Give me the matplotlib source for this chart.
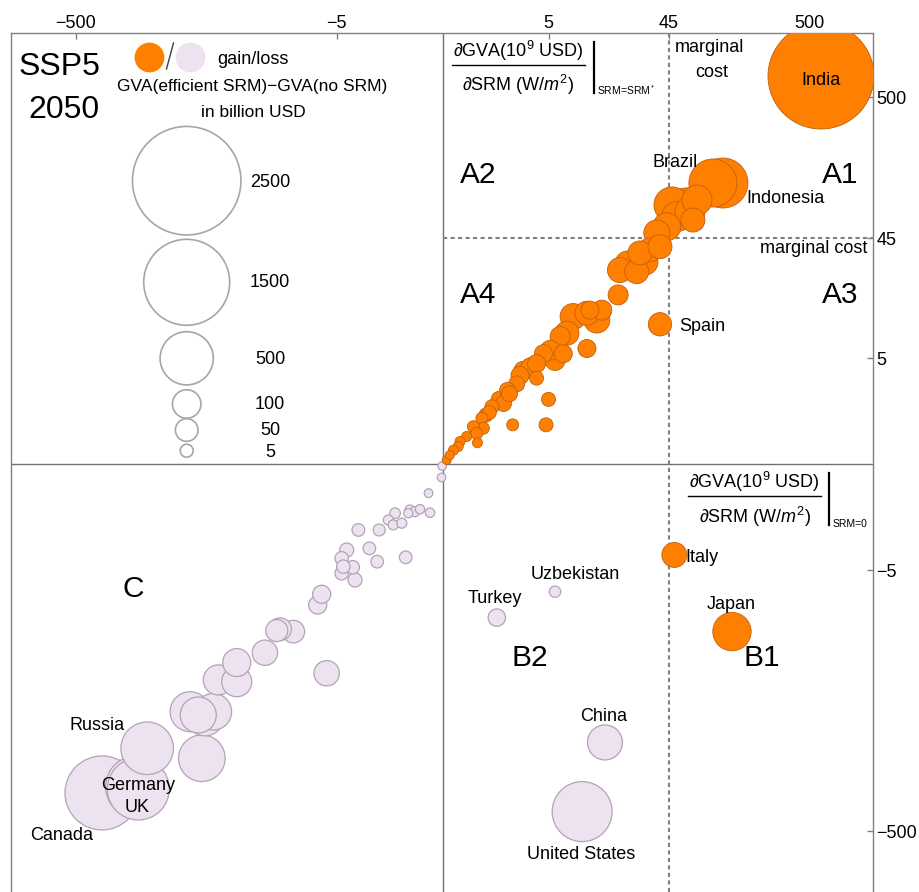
import numpy as np
import matplotlib
matplotlib.use("Agg")
import matplotlib.pyplot as plt
from matplotlib.lines import Line2D

plt.rcParams['font.family'] = ['Liberation Sans', 'DejaVu Sans']
plt.rcParams['mathtext.fontset'] = 'custom'
plt.rcParams['mathtext.rm'] = 'Liberation Sans'
plt.rcParams['mathtext.it'] = 'Liberation Sans:italic'
plt.rcParams['mathtext.bf'] = 'Liberation Sans:bold'

# ---------------- data (10^9 USD per W/m^2; gain/loss in 10^9 USD) ----------------
# countries gaining (orange)
gain_names = ["India", "Brazil", "Indonesia", "Spain", "Italy", "Japan"]
gain_x = [604, 96, 114, 38.6, 49.5, 133,
          60.5, 64.8, 51.6, 68.2, 43.4, 36.5, 38.6, 32.4, 27.2, 25.7, 19.1, 18.5,
          12.6, 10.5, 8.1, 7.2, 6.3, 10.5, 5.2, 4.5, 6.7, 5.7, 3.9, 3.4, 2.9, 3.9,
          2.7, 2.5, 2.0, 2.1, 1.6, 1.8, 1.3, 1.2, 5.0, 0.94, 0.99, 0.68, 0.78, 0.5,
          0.34, 0.3, 0.2, 0.13, 0.07, 2.27, 4.75, 0.8, 1.08, 13.8, 11.1, 29.7, 22.0,
          47.5, 73.1]
gain_y = [715, 116, 116, 9.7, -3.64, -16.0,
          77, 71, 65.2, 61.5, 54.8, 49.2, 38.8, 36.7, 34.8, 25.1, 25.8, 16.6,
          10.5, 11.9, 11.2, 8.2, 7.7, 6.1, 5.9, 5.5, 5.5, 4.8, 4.5, 4.2, 3.9, 3.3,
          3.5, 2.9, 2.5, 2.3, 2.0, 1.8, 1.65, 1.4, 2.0, 1.18, 0.84, 0.89, 0.69, 0.6,
          0.47, 0.35, 0.27, 0.17, 0.075, 0.95, 0.95, 0.44, 1.3, 12.6, 12.6, 29.7, 28.7,
          79.7, 86.7]
gain_val = [2377, 390, 430, 55, 68, 223,
            218, 116, 116, 60, 95, 77, 60, 60, 60, 60, 68, 33,
            77, 60, 77, 60, 33, 23, 33, 23, 23, 33, 23, 23, 23, 7.6,
            23, 14, 14, 14, 14, 14, 7.6, 7.6, 7.6, 3, 3, 3, 3, 0.6,
            0.6, 0.6, 0.6, 0.1, 0.1, 3, 7.6, 0.6, 7.6, 33, 23, 77, 77,
            189, 116]

# countries losing (lavender)
loss_names = ["Canada", "Germany", "UK", "Russia", "Turkey", "Uzbekistan", "China", "United States"]
loss_x = [-319, -177, -172, -148, 1.5, 5.7, 14.6, 9.6,
          -58, -71, -55, -47.6, -61.7, -43.7, -31.7, -31.7, -19.3, -14.7, -15.6,
          -11.55, -6.13, -7.3, -6.76, -4.08, -4.53, -4.38, -3.59, -4.53, -3.41,
          -3.17, -2.46, -2.03, -0.87, -1.93, -1.51, -1.31, -1.24, -1.0, -0.79,
          -0.74, -0.6, -0.47, -0.24, -0.27, -0.02, -0.01]
loss_y = [-260, -234, -243, -121.5, -12.4, -7.65, -110, -357,
          -144, -65, -71, -65, -68.7, -37.5, -38.7, -27.7, -23.3, -15.3, -15.7,
          -16.0, -33.4, -9.83, -8.03, -3.27, -3.91, -4.66, -4.72, -5.33, -6.09,
          -2.04, -3.15, -4.2, -3.83, -2.04, -1.57, -1.79, -1.29, -1.71, -1.29,
          -1.17, -1.23, -1.14, -1.27, -0.63, -0.25, -0.03]
loss_val = [1073, 716, 716, 486, 19.6, 2, 175, 663,
            363, 248, 218, 197, 189, 116, 116, 95, 71, 50, 46,
            50, 71, 23, 23, 7.6, 6, 6, 6, 6, 7.6,
            4.2, 4.2, 4.2, 4.2, 3, 0.6, 0.6, 1.1, 0.6, 0.1,
            0.6, 0.6, 0.2, 0.2, 0.01, 0, 0]

legend_vals = [2500, 1500, 500, 100, 50, 5]
tick_vals = [-500, -5, 5, 45, 500]
tick_labels = ["\u2212500", "\u22125", "5", "45", "500"]
marginal_cost = 45

# ---------------- helpers ----------------
W, H = 919, 892


def fwd(v):
    v = np.asarray(v, dtype=float)
    return np.sign(v) * np.log10(1 + np.abs(v))


def inv(t):
    t = np.asarray(t, dtype=float)
    return np.sign(t) * (10 ** np.abs(t) - 1)


def msize(v):
    r = 4.25 + np.sqrt(np.abs(np.asarray(v, dtype=float)))   # radius in px
    return (2 * r * 72 / 100) ** 2


def fx(x):
    return x / W


def fy(y):
    return 1 - y / H


fig = plt.figure(figsize=(W / 100, H / 100), dpi=100)
ax = fig.add_axes([fx(10.7), 0, 862.3 / W, fy(33.3)])
ax.set_xscale('function', functions=(fwd, inv))
ax.set_yscale('function', functions=(fwd, inv))
ax.set_xlim(inv(-3.1765), inv(3.164))
ax.set_ylim(inv(-3.145), inv(3.169))

# reference lines
ax.axhline(0, color='#707070', lw=1, zorder=1)
ax.axvline(0, color='#707070', lw=1, zorder=1)
ax.axvline(marginal_cost, color='#808080', lw=1.5, ls=(0, (2, 1.6)), zorder=1)
ax.plot([0, inv(3.164)], [marginal_cost, marginal_cost], color='#808080', lw=1.5,
        ls=(0, (2, 1.6)), zorder=1)

# bubbles, largest first
lx, ly, lv = np.array(loss_x), np.array(loss_y), np.array(loss_val)
o = np.argsort(-lv)
ax.scatter(lx[o], ly[o], s=msize(lv[o]), c='#ede2ef', edgecolors='#b3a3b6',
           linewidths=0.9, zorder=3)
gx, gy, gv = np.array(gain_x), np.array(gain_y), np.array(gain_val)
o = np.argsort(-gv)
ax.scatter(gx[o], gy[o], s=msize(gv[o]), c='#ff8000', edgecolors='#c0600c',
           linewidths=0.6, zorder=4)

# axes styling
ax.xaxis.tick_top()
ax.yaxis.tick_right()
ax.set_xticks(tick_vals)
ax.set_xticklabels(tick_labels)
ax.set_yticks(tick_vals)
ax.set_yticklabels(tick_labels)
ax.minorticks_off()
ax.tick_params(axis='both', direction='in', length=4, width=1, color='#808080',
               labelsize=13)
ax.tick_params(axis='x', pad=1)
ax.tick_params(axis='y', pad=2.5)
for side in ['top', 'left', 'right']:
    ax.spines[side].set_color('#808080')
    ax.spines[side].set_linewidth(1)
ax.spines['bottom'].set_visible(False)


def txt(x, y, s, size=13, ha='center', **kw):
    fig.text(fx(x), fy(y), s, fontsize=size, ha=ha, va='baseline', **kw)


# quadrant names
for name, x, y in [("A2", 478, 183.3), ("A1", 840, 183.3), ("A4", 478, 303.3),
                   ("A3", 840, 303.3), ("C", 133.7, 596.7), ("B2", 530, 666),
                   ("B1", 762, 666)]:
    txt(x, y, name, size=21.5)

txt(100, 75, "SSP5", size=23, ha='right')
txt(100, 118.3, "2050", size=23, ha='right')

# country labels
for name, x, y in [("India", 821, 85), ("Brazil", 675, 166.7), ("Indonesia", 786, 203.3),
                   ("Spain", 702.5, 331), ("Italy", 702, 561.7), ("Japan", 731, 609.3),
                   ("Uzbekistan", 575, 579), ("Turkey", 495, 603.3), ("China", 603.5, 721),
                   ("United States", 581, 859.3), ("Russia", 96.7, 730),
                   ("Germany", 138, 790), ("UK", 137.5, 812.3), ("Canada", 61.7, 840)]:
    txt(x, y, name, zorder=6)

# marginal cost labels
txt(709, 51.7, "marginal")
txt(711.7, 76.7, "cost")
txt(867.7, 253.3, "marginal cost", ha='right')

# derivative labels
txt(518.3, 57, "\u2202GVA($10^9$ USD)")
txt(518.3, 90.7, "\u2202SRM (W/$m^2$)")
fig.add_artist(Line2D([fx(451.7), fx(585)], [fy(65), fy(65)], color='black', lw=1))
fig.add_artist(Line2D([fx(594), fx(594)], [fy(41.7), fy(93.3)], color='black', lw=1.6))
txt(597, 95, "SRM=SRM$^*$", size=7.5, ha='left')

txt(754.5, 488.3, "\u2202GVA($10^9$ USD)")
txt(755, 523.3, "\u2202SRM (W/$m^2$)")
fig.add_artist(Line2D([fx(688.3), fx(820.7)], [fy(496), fy(496)], color='black', lw=1))
fig.add_artist(Line2D([fx(829.3), fx(829.3)], [fy(473.3), fy(525)], color='black', lw=1.6))
txt(833, 526.7, "SRM=0", size=7.5, ha='left')

# legend
ax.scatter([fx(149.3)], [fy(56.7)], s=(2 * 14.2 * 0.72) ** 2, c='#ff8000',
           transform=fig.transFigure, clip_on=False, zorder=5)
ax.scatter([fx(190)], [fy(56.7)], s=(2 * 14.2 * 0.72) ** 2, c='#ede2ef',
           transform=fig.transFigure, clip_on=False, zorder=5)
fig.add_artist(Line2D([fx(166.5), fx(173.5)], [fy(69), fy(43)], color='#404040', lw=1))
txt(217, 64, "gain/loss", ha='left')
txt(252.5, 90.7, "GVA(efficient SRM)\u2212GVA(no SRM)", size=12.5)
txt(253.8, 116.7, "in billion USD", size=12.5)

legend_y = [180.7, 282.3, 358.3, 404, 430, 450.7]
legend_base = [186.7, 286.7, 364, 408.7, 435, 456.7]
ax.scatter([fx(186.7)] * len(legend_vals), [fy(y) for y in legend_y],
           s=msize(legend_vals), facecolors='none', edgecolors='#a6a6a6',
           linewidths=1.2, transform=fig.transFigure, clip_on=False, zorder=5)
for v, yb in zip(legend_vals, legend_base):
    txt(270, yb, str(v))

fig.savefig("out.png", dpi=100)
